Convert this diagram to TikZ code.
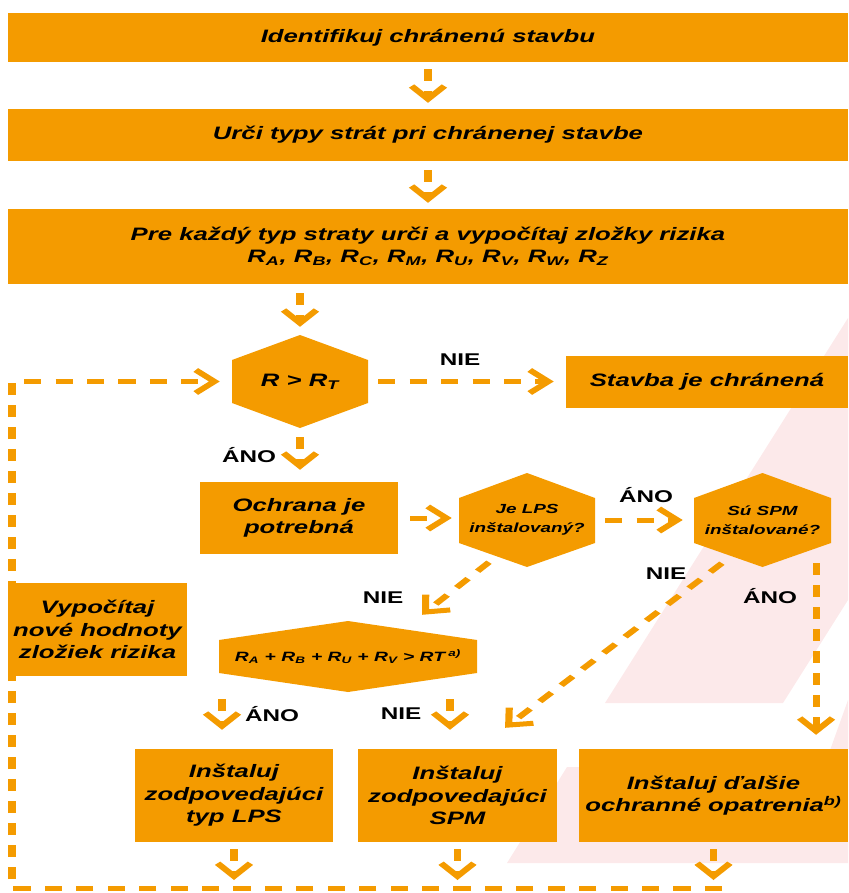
\documentclass[tikz,border=0pt]{standalone}
\usepackage{fontspec}
\setmainfont{Liberation Sans}
\usetikzlibrary{arrows.meta}
\definecolor{ora}{RGB}{244,155,0}
\definecolor{wmark}{RGB}{252,233,234}

\begin{document}
\begin{tikzpicture}[
    box/.style={fill=ora, inner sep=0pt, align=center, font=\fontsize{18}{22.5}\selectfont\bfseries\itshape},
    hextxt/.style={inner sep=0pt, align=center, font=\fontsize{13.2}{19}\selectfont\bfseries\itshape},
    lbl/.style={font=\fontsize{17}{20}\selectfont\bfseries},
    flow/.style={draw=ora, line width=5pt, dash pattern=on 12pt off 10pt, -{Straight Barb[length=13pt,width=23pt]}}
  ]
    \useasboundingbox (0pt,0pt) rectangle (848pt,-893pt); % page size
    % everything below in pixel units, stretched sideways like the original
    \begin{scope}[x=0.7pt, y=-1pt, transform canvas={xscale=1.42857}]

    % 1. faint background stripes
    \fill[wmark] (848,318) -- (605,703) -- (783,703) -- (848,600) -- cycle;
    \fill[wmark] (567,767) -- (507,863) -- (848,863) -- (848,700) -- (824,767) -- cycle;

    % 2. top boxes
    \node[box, minimum width=588pt, minimum height=49pt] (ident) at (428,37.5) {Identifikuj chránenú stavbu};
    \node[box, minimum width=588pt, minimum height=52pt] (types) at (428,135) {Urči typy strát pri chránenej stavbe};
    \node[box, minimum width=588pt, minimum height=75pt] (comps) at (428,246.5)
      {Pre každý typ straty urči a vypočítaj zložky rizika\\
       R\textsubscript{A}, R\textsubscript{B}, R\textsubscript{C}, R\textsubscript{M}, R\textsubscript{U}, R\textsubscript{V}, R\textsubscript{W}, R\textsubscript{Z}};

    % 3. hexagons (filled first, text node on top)
    \fill[ora] (232,360) -- (300,335) -- (368,360) -- (368,403) -- (300,428) -- (232,403) -- cycle;
    \node[hextxt, font=\fontsize{18}{22}\selectfont\bfseries\itshape, minimum width=95.2pt, minimum height=93pt] (check) at (300,381.5)
      {R > R\textsubscript{T}};
    \fill[ora] (459,498) -- (527,473) -- (595,498) -- (595,543) -- (527,567) -- (459,543) -- cycle;
    \node[hextxt, minimum width=95.2pt, minimum height=94pt] (lps) at (527,520) {Je LPS\\inštalovaný?};
    \fill[ora] (694,498) -- (762.5,473) -- (831,498) -- (831,543) -- (762.5,567) -- (694,543) -- cycle;
    \node[hextxt, minimum width=95.9pt, minimum height=94pt] (spm) at (762.5,520) {Sú SPM\\inštalované?};
    \fill[ora] (219,640) -- (348,621) -- (477,640) -- (477,673) -- (348,692) -- (219,673) -- cycle;
    \node[hextxt, font=\fontsize{13.5}{16}\selectfont\bfseries\itshape, minimum width=180.6pt, minimum height=71pt] (sum) at (348,656.5)
      {R\textsubscript{A} + R\textsubscript{B} + R\textsubscript{U} + R\textsubscript{V} > RT\,\textsuperscript{a)}};

    % 4. other boxes
    \node[box, minimum width=197.4pt, minimum height=52pt] (safe) at (707,382) {Stavba je chránená};
    \node[box, minimum width=138.6pt, minimum height=72pt] (need) at (299,518) {Ochrana je\\potrebná};
    \node[box, minimum width=138.6pt, minimum height=93pt] (instlps) at (234,795.5) {Inštaluj\\zodpovedajúci\\typ LPS};
    \node[box, minimum width=139.3pt, minimum height=93pt] (instspm) at (457.5,795.5) {Inštaluj\\zodpovedajúci\\SPM};
    \node[box, minimum width=188.3pt, minimum height=93pt] (instmore) at (713.5,795.5) {Inštaluj ďalšie\\ochranné opatrenia\textsuperscript{b)}};

    % 5. dashed arrows
    \draw[flow, shorten <=7pt, shorten >=6pt] (ident) -- (types);
    \draw[flow, shorten <=9pt, shorten >=6pt] (types) -- (comps);
    \draw[flow, shorten <=9pt, shorten >=8pt] (check.north |- comps.south) -- (check.north);
    \draw[flow, shorten <=7pt, shorten >=8.4pt] (check.east) -- (check.east -| safe.west);
    \draw[flow, shorten <=9pt, shorten >=12pt] (check.south) -- (check.south |- need.north);
    \draw[flow, shorten <=8.4pt, shorten >=4.9pt] (need.east) -- (need.east -| lps.west);
    \draw[flow, shorten <=7pt, shorten >=7.7pt] (lps.east) -- (spm.west);
    \draw[flow] ([xshift=-26.6pt,yshift=5pt]lps.south) -- ([xshift=51.8pt,yshift=6pt]sum.north);
    \draw[flow] ([xshift=-28.4pt,yshift=4pt]spm.south) -- ([xshift=33.3pt,yshift=21pt]instspm.north);
    \draw[flow, shorten >=14pt] ([xshift=37.5pt,yshift=4pt]spm.south) -- ([xshift=37.5pt]spm.south |- instmore.north);
    \draw[flow, shorten <=7pt, shorten >=19pt] ([xshift=-8.4pt]sum.south -| instlps.north) -- ([xshift=-8.4pt]instlps.north);
    \draw[flow, shorten <=7pt, shorten >=19pt] ([xshift=-5.25pt]sum.south -| instspm.north) -- ([xshift=-5.25pt]instspm.north);

    % 6. loop back to the first check
    \coordinate (loopend) at (722,888);
    \coordinate (loopcorner) at (12,888);
    \draw[flow, shorten <=7pt, shorten >=8pt] (instlps.south) -- (instlps.south |- loopend);
    \draw[flow, shorten <=7pt, shorten >=8pt] (instspm.south) -- (instspm.south |- loopend);
    \draw[flow, shorten <=7pt, shorten >=8pt] (instmore.south) -- (instmore.south |- loopend);
    \draw[flow, shorten >=8.4pt] (loopend) -- (loopcorner) |- (check.west);
    \node[box, minimum width=125.3pt, minimum height=93pt] (recalc) at (97.5,629.5) {Vypočítaj\\nové hodnoty\\zložiek rizika};

    % 7. yes / no labels
    \node[lbl] (nie1) at (460,360) {NIE};
    \node[lbl] (ano1) at (249,455) {ÁNO};
    \node[lbl] (ano2) at (646,495) {ÁNO};
    \node[lbl] (nie2) at (383,598) {NIE};
    \node[lbl] (nie3) at (666,574) {NIE};
    \node[lbl] (ano3) at (770,596) {ÁNO};
    \node[lbl] (ano4) at (272,714) {ÁNO};
    \node[lbl] (nie4) at (401,714) {NIE};
    \end{scope}
\end{tikzpicture}
\end{document}
